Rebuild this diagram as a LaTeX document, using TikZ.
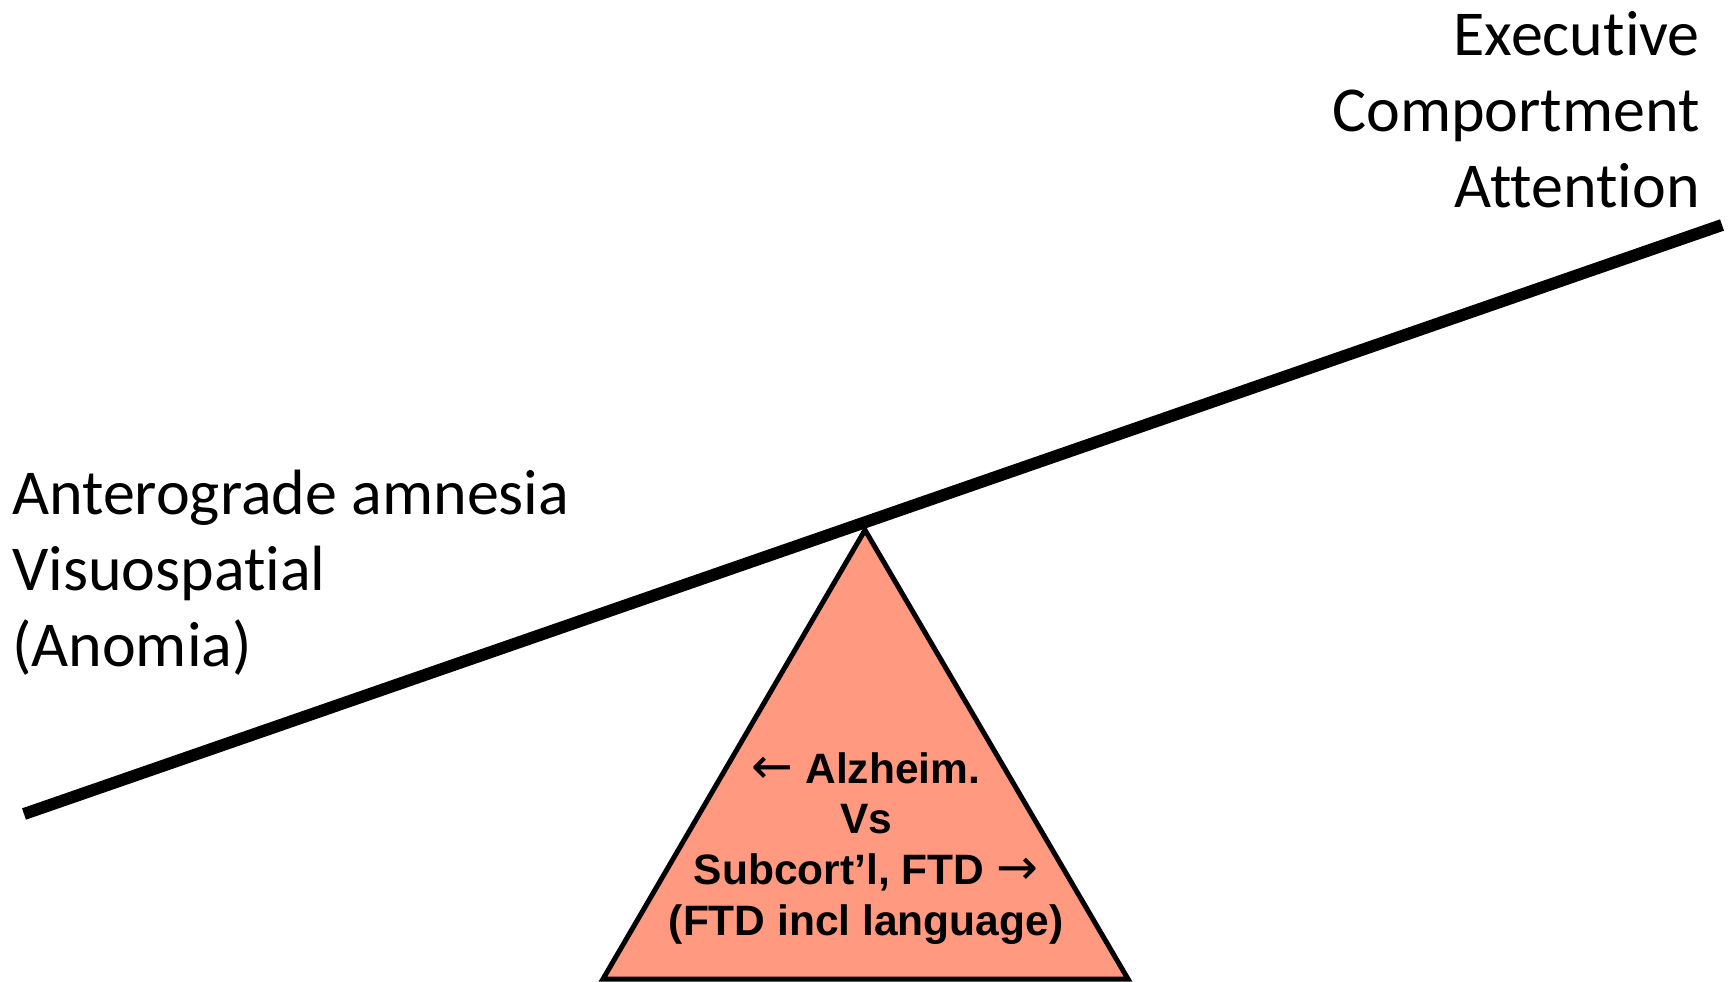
\documentclass[tikz,border=0pt]{standalone}
\usepackage{fontspec}
\setmainfont{Carlito}[Ligatures={NoCommon}]
\newfontfamily\arialbold{Liberation Sans}[BoldFont={Liberation Sans Bold}]
\newfontfamily\arrowfont{DejaVu Sans}
\definecolor{fulcrumfill}{RGB}{255,153,128}
\tikzset{
  sidetext/.style={inner sep=0pt,font={\fontsize{64}{76}\selectfont}},
  fulcrumtext/.style={inner sep=0pt,align=center,font={\arialbold\bfseries\fontsize{42.5}{50.7}\selectfont}}
}
\newcommand{\leftarr}{{\arrowfont\mdseries\fontsize{50}{50.7}\selectfont ←}}
\newcommand{\rightarr}{{\arrowfont\mdseries\fontsize{50}{50.7}\selectfont →}}
\begin{document}
\begin{tikzpicture}[x=1pt,y=-1pt]
\useasboundingbox (0,0) rectangle (1729,982);

%Shape: Triangle [id:fulcrum]
\coordinate (apex) at (865,530);
\coordinate (baseL) at (603,979);
\coordinate (baseR) at (1128,979);
\draw [fill=fulcrumfill][line width=5pt][line join=miter] (apex) -- (baseR) -- (baseL) -- cycle ;

%Straight Lines [id:beam]
\coordinate (beamL) at (24,814);
\coordinate (beamR) at (1722,225);
\draw [line width=12pt] (beamL) -- (beamR) ;

% Text Node
\node (right) [sidetext,anchor=north east,align=right] at (1700,11) {Executive\\Comportment\\Attention};
% Text Node
\node (left) [sidetext,anchor=north west,align=left] at (12,470) {Anterograde amnesia\\Visuospatial\\(Anomia)};
% Text Node
\node (middle) [fulcrumtext,anchor=north] at (866,752) {\leftarr{} Alzheim.\\Vs\\Subcort’l, FTD \rightarr\\(FTD incl language)};

\end{tikzpicture}
\end{document}
